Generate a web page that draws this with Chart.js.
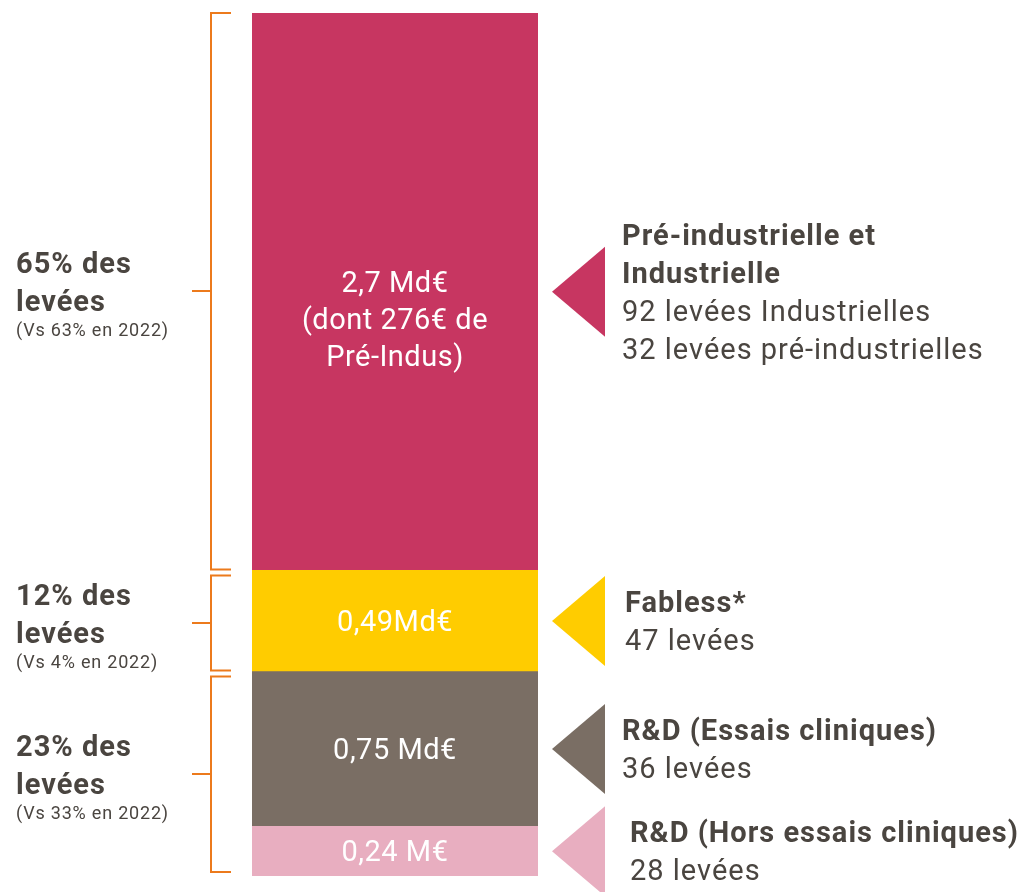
<!DOCTYPE html>
<html>
<head>
<meta charset="utf-8">
<script src="https://cdn.jsdelivr.net/npm/chart.js@4"></script>
<style>
html, body { margin: 0; padding: 0; background: #fff; }
#wrap { position: relative; width: 1021px; height: 892px; }
</style>
</head>
<body>
<div id="wrap"><canvas id="chart"></canvas></div>
<script>
// segments, from top of the bar to the bottom
const categories = ["Pré-industrielle et Industrielle", "Fabless*", "R&D (Essais cliniques)", "R&D (Hors essais cliniques)"];
const values = [2.7, 0.49, 0.75, 0.24]; // Md€
const valueLabels = [["2,7 Md€", "(dont 276€ de", "Pré-Indus)"], ["0,49Md€"], ["0,75 Md€"], ["0,24 M€"]];
const titleLines = [["Pré-industrielle et", "Industrielle"], ["Fabless*"], ["R&D (Essais cliniques)"], ["R&D (Hors essais cliniques)"]];
const countLines = [["92 levées Industrielles", "32 levées pré-industrielles"], ["47 levées"], ["36 levées"], ["28 levées"]];
const colors = ["#C73661", "#FFCC00", "#7A6E64", "#E8AEC0"];

// share of the raises, grouped over segments
const shareLabels = ["65% des", "12% des", "23% des"];
const shareSubs = ["(Vs 63% en 2022)", "(Vs 4% en 2022)", "(Vs 33% en 2022)"];
const shareGroups = [[0], [1], [2, 3]];

const FONT = "Roboto, 'Noto Sans', sans-serif";
const TEXT = "#4a4540";
const ORANGE = "#EC7A1C";
const textX = [622, 625, 622, 630]; // left edge of the text on the right

// Chart.js stacks dataset 0 at the bottom, so reverse
const datasets = categories.map((c, i) => ({
  label: c,
  data: [values[i]],
  backgroundColor: colors[i],
  borderWidth: 0,
})).reverse();

function segment(chart, i) {
  const el = chart.getDatasetMeta(categories.length - 1 - i).data[0];
  return { top: Math.min(el.y, el.base), bottom: Math.max(el.y, el.base) };
}

const annotations = {
  id: "annotations",
  afterDatasetsDraw(chart) {
    const ctx = chart.ctx;
    const area = chart.chartArea;
    const cx = (area.left + area.right) / 2;
    ctx.save();

    // labels inside the bar
    ctx.fillStyle = "#fff";
    ctx.textAlign = "center";
    ctx.textBaseline = "middle";
    ctx.font = "29px " + FONT;
    ctx.letterSpacing = "0.5px";
    categories.forEach((c, i) => {
      const s = segment(chart, i);
      const lines = valueLabels[i];
      let mid = (s.top + s.bottom) / 2 + (lines.length > 1 ? 30 : 3);
      const lh = 37;
      lines.forEach((t, k) => {
        ctx.fillText(t, cx, mid + (k - (lines.length - 1) / 2) * lh);
      });
    });

    // right side: triangles and text
    ctx.textAlign = "left";
    ctx.textBaseline = "alphabetic";
    ctx.letterSpacing = "1px";
    categories.forEach((c, i) => {
      const s = segment(chart, i);
      const mid = (s.top + s.bottom) / 2;
      ctx.fillStyle = colors[i];
      ctx.beginPath();
      ctx.moveTo(552, mid);
      ctx.lineTo(605, mid - 45);
      ctx.lineTo(605, mid + 45);
      ctx.closePath();
      ctx.fill();

      const n = titleLines[i].length + countLines[i].length;
      let y = mid - (n - 1) * 19 + 10;
      ctx.fillStyle = TEXT;
      ctx.font = "bold 29px " + FONT;
      titleLines[i].forEach(t => { ctx.fillText(t, textX[i], y); y += 38; });
      ctx.font = "29px " + FONT;
      countLines[i].forEach(t => { ctx.fillText(t, textX[i], y); y += 38; });
    });

    // left side: brackets and shares
    ctx.strokeStyle = ORANGE;
    ctx.lineWidth = 2;
    shareGroups.forEach((g, j) => {
      const top = segment(chart, g[0]).top + (j > 0 ? 5 : 0);
      const bottom = segment(chart, g[g.length - 1]).bottom - (j < shareGroups.length - 1 ? 1 : 4);
      const mid = Math.round((top + bottom) / 2);
      ctx.beginPath();
      ctx.moveTo(231, top); ctx.lineTo(211, top);
      ctx.lineTo(211, bottom); ctx.lineTo(231, bottom);
      ctx.moveTo(192, mid); ctx.lineTo(211, mid);
      ctx.stroke();

      ctx.fillStyle = TEXT;
      ctx.letterSpacing = "1px";
      ctx.font = "bold 29px " + FONT;
      ctx.fillText(shareLabels[j], 16, mid - 18);
      ctx.fillText("levées", 16, mid + 20);
      ctx.letterSpacing = "0.8px";
      ctx.font = "18px " + FONT;
      ctx.fillText(shareSubs[j], 16, mid + 45);
    });

    ctx.restore();
  }
};

new Chart(document.getElementById("chart"), {
  type: "bar",
  data: { labels: [""], datasets: datasets },
  options: {
    responsive: true,
    maintainAspectRatio: false,
    animation: false,
    layout: { padding: { left: 252, right: 483, top: 13, bottom: 16 } },
    datasets: { bar: { barPercentage: 1, categoryPercentage: 1 } },
    plugins: { legend: { display: false }, tooltip: { enabled: false } },
    scales: {
      x: { stacked: true, display: false },
      y: { stacked: true, display: false, min: 0, max: values.reduce((a, b) => a + b, 0) },
    },
  },
  plugins: [annotations],
});
</script>
</body>
</html>
